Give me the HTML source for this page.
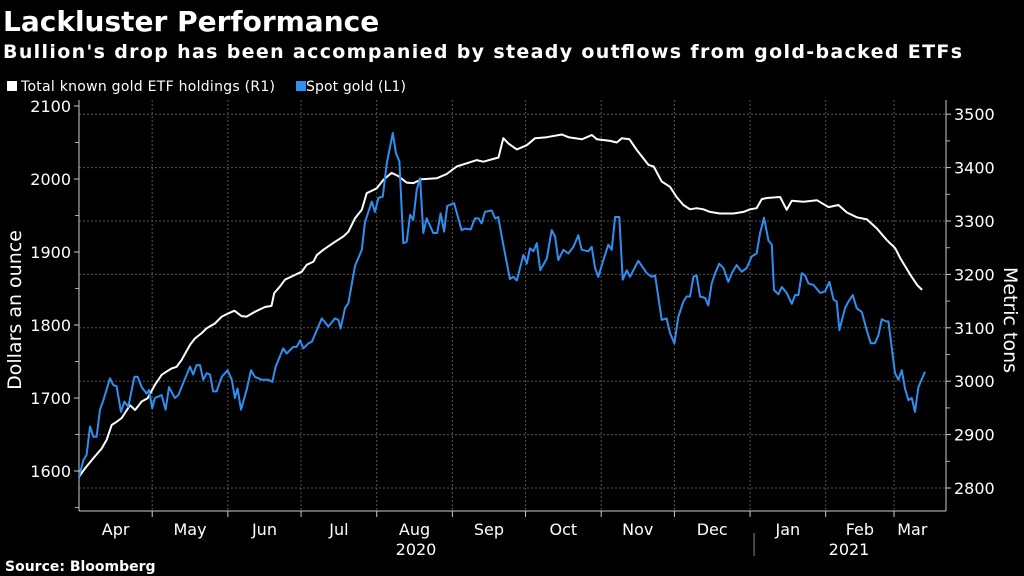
<!DOCTYPE html>
<html><head><meta charset="utf-8">
<style>
html,body{margin:0;padding:0;background:#000;width:1024px;height:576px;overflow:hidden}
svg text{font-family:"DejaVu Sans","Liberation Sans",sans-serif;fill:#fff}
</style></head>
<body>
<svg id="chart" width="1024" height="576" viewBox="0 0 1024 576" xmlns="http://www.w3.org/2000/svg">
<rect width="1024" height="576" fill="#000"/>
<text x="3" y="31" font-size="28" font-weight="bold">Lackluster Performance</text>
<text x="3" y="58" font-size="19" font-weight="bold" textLength="959" lengthAdjust="spacing">Bullion's drop has been accompanied by steady outflows from gold-backed ETFs</text>
<g>
<rect x="7" y="81" width="10" height="10" fill="#fff"/>
<text x="21" y="91" font-size="14" textLength="254" lengthAdjust="spacing">Total known gold ETF holdings (R1)</text>
<rect x="296" y="81" width="10" height="10" fill="#2f8ff0"/>
<text x="306" y="91" font-size="14" textLength="100" lengthAdjust="spacing">Spot gold (L1)</text>
</g>
<g id="grid"></g>
<g id="axes"></g>
<g id="series"></g>
<text transform="translate(21,310) rotate(-90)" font-size="19" text-anchor="middle">Dollars an ounce</text>
<text transform="translate(1004,320) rotate(90)" font-size="19" text-anchor="middle">Metric tons</text>
<text x="5" y="571" font-size="14" font-weight="bold">Source: Bloomberg</text>
</svg>
<script>
// Data: days since 2020-04-01
const goldDays=[0,1.8,3.1,4.5,5.9,7.2,8.6,10,12.7,14,15.4,17.2,18.6,20.2,22.7,24,25.7,27.7,28.7,30,31.1,33.9,35.5,36.9,39.3,40.7,45.5,46.8,48.2,49.6,50.9,52.3,53.7,55,56.4,58.5,60.9,62.6,63.9,65,66.4,68.7,70.5,72.1,74.9,77.6,79.2,80.6,83.7,85.1,87.8,89.2,90.6,91.9,94,95.4,98.1,99.5,102.2,104.9,106.3,107.2,109,110.4,113.1,115.9,117.2,120,121.3,122.7,124.5,126.1,128.6,129.9,131.3,132.9,134.3,135.7,137,138.4,139.8,141.1,142.5,145.2,146.8,148.2,149.6,150.9,153.7,156.8,158.2,160.5,162.3,163.7,165,166.4,169.1,170.5,171.8,173.9,176.6,178,179.4,182.1,183.5,184.8,186.2,187.6,189,191.7,193.7,195.1,196.4,198.5,200.5,202.6,204.6,206,208.7,210.1,211.5,212.8,214.9,216.9,218.3,219.7,221.4,222.8,224.5,225.8,229.2,232.7,234.7,236.1,238.8,240.8,242.2,244,245.6,247.7,249,250.4,251.8,253.1,254.5,256.6,257.9,259.3,260.7,262.3,264.1,266.1,267.5,269.5,271.6,273.6,275.7,277.7,279.1,280.7,282.5,283.9,284.8,286.6,288,290,292.1,293.4,294.8,296.2,297.5,298.9,301,303.7,305.7,307.5,309.2,310.5,311.6,313.9,315.3,317.1,318.7,320.8,322.8,324.5,326.2,327.6,329,330.7,331.7,334.4,335.8,337.2,338.5,339.9,341.3,342.6,344,346.7];
const goldValues=[1592,1615,1622,1661,1647,1647,1684,1697,1727,1718,1716,1681,1695,1688,1729,1729,1715,1706,1711,1686,1700,1704,1684,1715,1700,1704,1743,1732,1745,1745,1725,1734,1732,1709,1709,1729,1738,1725,1700,1713,1684,1711,1738,1729,1725,1725,1722,1743,1768,1761,1770,1770,1779,1768,1775,1777,1798,1809,1798,1809,1807,1795,1823,1830,1881,1903,1941,1969,1955,1974,1976,2021,2063,2035,2024,1912,1914,1951,1944,1985,2001,1926,1946,1926,1926,1953,1928,1963,1967,1930,1932,1931,1946,1946,1939,1955,1957,1946,1948,1910,1863,1866,1861,1896,1884,1905,1901,1912,1875,1891,1930,1921,1889,1903,1898,1907,1923,1903,1901,1907,1878,1866,1889,1910,1903,1948,1948,1862,1875,1866,1888,1871,1866,1868,1807,1809,1789,1775,1811,1832,1839,1839,1866,1868,1839,1837,1827,1857,1871,1884,1878,1859,1871,1882,1873,1878,1894,1898,1926,1947,1916,1910,1848,1842,1852,1844,1829,1841,1841,1871,1868,1857,1855,1844,1846,1859,1835,1832,1793,1823,1832,1841,1823,1818,1793,1775,1775,1786,1808,1805,1805,1734,1725,1738,1713,1697,1700,1681,1715,1736];
const etfDays=[0,2.5,5.9,9.3,11.3,13.4,15.4,17.5,20.9,23,25.7,28.1,31.1,33.9,35.9,38,40,42.1,45.5,47.5,50.3,52.3,55.7,58.5,61.2,63.7,66.6,68.7,72.1,76.2,78.9,80,82.3,84.4,88.5,91.3,93.3,96.1,97.4,100.1,104.9,108.3,110.4,113.1,115.9,117.9,122,124.7,128.1,130.9,134.3,137,140.4,146.6,150.7,154.8,158.9,163,165.7,171.9,173.9,176,179.4,183.5,186.9,191.7,197.9,200.6,206.1,210.2,212.2,217.7,220.4,222.5,225.6,228.6,233.4,235.5,238.8,242.2,244.9,247.7,250.4,253.1,255.9,258.6,262.7,268.2,272.3,275,277.7,279.8,281.9,287.3,290,292.1,296.9,302.4,307.2,311.2,314.7,318.8,322.9,327,331.1,334.5,336.6,340.7,343.5,345.5];
const etfValues=[2821,2837,2856,2874,2890,2918,2924,2931,2955,2946,2962,2968,2993,3012,3018,3024,3027,3040,3068,3080,3090,3099,3108,3121,3127,3132,3122,3121,3130,3139,3141,3165,3177,3190,3199,3205,3218,3224,3236,3246,3261,3271,3280,3305,3321,3352,3361,3377,3390,3384,3372,3371,3378,3380,3388,3402,3408,3414,3411,3419,3455,3445,3434,3442,3455,3457,3462,3457,3453,3461,3453,3450,3447,3455,3453,3433,3405,3402,3374,3364,3345,3330,3322,3324,3322,3317,3314,3314,3317,3322,3324,3341,3343,3345,3321,3338,3336,3339,3326,3330,3316,3307,3303,3286,3264,3249,3230,3199,3180,3171];
const monthLabels=["Apr","May","Jun","Jul","Aug","Sep","Oct","Nov","Dec","Jan","Feb","Mar"];
const monthStarts=[0,30,61,91,122,153,183,214,244,275,306,334];
const leftTicks=[1600,1700,1800,1900,2000,2100];
const rightTicks=[2800,2900,3000,3100,3200,3300,3400,3500];

const NS="http://www.w3.org/2000/svg";
const X0=79,X1=946,YB=511;
const xS=d=>X0+(d-0)*(X1-X0)/355.3;
const yL=v=>471-(v-1600)*0.73;
const yR=v=>488-(v-2800)*0.534;
function el(tag,attrs,parent,txt){const e=document.createElementNS(NS,tag);for(const k in attrs)e.setAttribute(k,attrs[k]);if(txt!==undefined)e.textContent=txt;parent.appendChild(e);return e;}
const grid=document.getElementById('grid'),axes=document.getElementById('axes'),series=document.getElementById('series');

rightTicks.forEach(v=>{
  const l=el('line',{x1:X0,x2:X1,y1:yR(v),y2:yR(v),stroke:'#555','stroke-width':1,'stroke-dasharray':'2,2'},grid);
  
  
  const t=el('line',{x1:X1,x2:X1+5,y1:yR(v),y2:yR(v),stroke:'#ccc'},axes);
  
  
  const tx=el('text',{x:X1+8,y:yR(v)+6,'font-size':16},axes,String(v));
  
  
});
for(let v=2850;v<3500;v+=100){const t=el('line',{x1:X1,x2:X1+4,y1:yR(v),y2:yR(v),stroke:'#aaa'},axes);}
leftTicks.forEach(v=>{
  const t=el('line',{x1:X0-5,x2:X0,y1:yL(v),y2:yL(v),stroke:'#ccc'},axes);
  
  
  const tx=el('text',{x:X0-8,y:yL(v)+6,'font-size':16,'text-anchor':'end'},axes,String(v));
  
  
});
for(let v=1550;v<=2100;v+=100){const t=el('line',{x1:X0-4,x2:X0,y1:yL(v),y2:yL(v),stroke:'#aaa'},axes);}
monthStarts.forEach((d,i)=>{
  const x=xS(d);
  if(i>0){
    const g=el('line',{x1:x,x2:x,y1:100,y2:YB,stroke:'#555','stroke-dasharray':'2,2'},grid);
    
    
    const t=el('line',{x1:x,x2:x,y1:YB,y2:YB+6,stroke:'#ccc'},axes);
    
    
  }
  const next=i<monthStarts.length-1?monthStarts[i+1]:349;
  const tx=el('text',{x:(x+xS(next))/2,y:YB+24,'font-size':16,'text-anchor':'middle'},axes,monthLabels[i]);
  
  
});
const y1=el('text',{x:416,y:YB+44,'font-size':16,'text-anchor':'middle'},axes,'2020');


const y2=el('text',{x:849,y:YB+44,'font-size':16,'text-anchor':'middle'},axes,'2021');


const ys=el('line',{x1:xS(275)+4,x2:xS(275)+4,y1:533,y2:556,stroke:'#888'},axes);


const la=el('line',{x1:X0,x2:X0,y1:100,y2:YB,stroke:'#ccc'},axes);


const ra=el('line',{x1:X1,x2:X1,y1:100,y2:YB,stroke:'#ccc'},axes);


const ba=el('line',{x1:X0,x2:X1,y1:YB,y2:YB,stroke:'#ccc'},axes);



const etfPts=etfDays.map((d,i)=>xS(d).toFixed(1)+','+yR(etfValues[i]).toFixed(1)).join(' ');
const ep=el('polyline',{points:etfPts,fill:'none',stroke:'#fff','stroke-width':2,'stroke-linejoin':'round'},series);


const goldPts=goldDays.map((d,i)=>xS(d).toFixed(1)+','+yL(goldValues[i]).toFixed(1)).join(' ');
const gp=el('polyline',{points:goldPts,fill:'none',stroke:'#2f8ff0','stroke-width':2,'stroke-linejoin':'round'},series);


</script>
</body></html>
